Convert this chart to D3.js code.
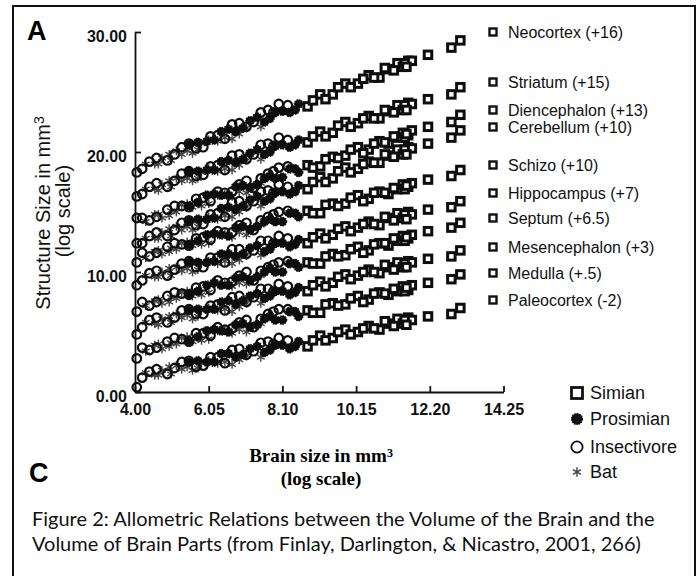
<!DOCTYPE html>
<html>
<meta charset="utf-8">
<head>
<title>brain allometry</title>
<script src="https://d3js.org/d3.v7.min.js"></script>
<style>
body { margin: 0; background: #fff; }
</style>
</head>
<body>
<div id="plot"></div>
<script>

// one entry per animal: brain size (log scale) and its group
var brainSize = [4.05, 4.4, 4.9, 5.3, 5.7, 6.1, 6.5, 6.9, 7.3, 7.7, 8.0, 8.25,
	4.55, 4.75, 5.0, 5.15, 5.45, 5.6, 5.85, 6.3, 6.7, 7.1, 7.5,
	5.5, 6.0, 6.4, 6.8, 7.2, 7.6, 7.9, 8.3, 8.55,
	8.8, 9.15, 9.5, 9.85, 10.2, 10.5, 10.8, 11.05, 11.3, 11.45, 11.6, 11.7, 12.15, 12.8, 13.05,
	4.2, 4.6, 5.1, 5.5, 5.9, 6.3, 6.7, 7.1, 7.5, 7.85,
	4.3, 4.65, 4.95, 5.3, 5.75, 6.05, 6.5, 6.9,
	5.75, 6.2, 6.6, 7.0, 7.4, 7.75, 8.1, 8.45,
	8.95, 9.3, 9.65, 10.0, 10.35, 10.65, 10.95, 11.2, 11.5, 11.55];
var species = ["I","I","I","I","I","I","I","I","I","I","I","I",
	"B","B","B","B","B","B","B","B","B","B","B",
	"P","P","P","P","P","P","P","P","P",
	"S","S","S","S","S","S","S","S","S","S","S","S","S","S","S",
	"I","I","I","I","I","I","I","I","I","I",
	"B","B","B","B","B","B","B","B",
	"P","P","P","P","P","P","P","P",
	"S","S","S","S","S","S","S","S","S","S"];

// structure sizes (log scale, offset as in the legend)
var neocortex = [18.3, 19.2, 19.3, 20.4, 20.3, 21.3, 21.1, 22.4, 22.5, 23.5, 24.0, 23.9,
	19.0, 19.5, 19.3, 20.1, 20.1, 19.9, 20.7, 20.9, 21.1, 22.0, 22.1,
	20.6, 20.9, 21.7, 21.7, 22.6, 22.5, 23.3, 23.3, 24.0,
	23.8, 24.8, 24.8, 25.7, 25.7, 26.4, 26.2, 26.9, 27.4, 27.1, 27.6, 27.6, 28.1, 28.7, 29.3,
	18.6, 19.5, 19.8, 20.7, 20.4, 21.4, 22.3, 22.1, 23.3, 23.3,
	19.0, 19.0, 19.8, 19.8, 20.2, 21.0, 21.2, 21.5,
	20.8, 21.0, 21.9, 22.0, 22.9, 22.8, 23.4, 23.5,
	24.3, 24.4, 25.4, 25.4, 26.1, 26.2, 27.0, 26.8, 27.4, 27.1];
var striatum = [16.3, 17.1, 17.1, 18.2, 18.0, 18.8, 18.5, 19.8, 19.8, 20.7, 21.2, 21.0,
	16.9, 17.3, 17.1, 17.8, 17.8, 17.6, 18.3, 18.4, 18.5, 19.3, 19.4,
	18.3, 18.5, 19.2, 19.1, 19.9, 19.8, 20.5, 20.4, 21.0,
	20.8, 21.7, 21.6, 22.5, 22.4, 23.0, 22.8, 23.4, 23.9, 23.5, 24.1, 24.0, 24.4, 24.8, 25.4,
	16.5, 17.4, 17.6, 18.4, 18.1, 18.9, 19.7, 19.4, 20.6, 20.5,
	16.9, 16.8, 17.6, 17.6, 17.8, 18.6, 18.6, 18.9,
	18.4, 18.5, 19.3, 19.4, 20.2, 20.0, 20.6, 20.6,
	21.3, 21.3, 22.2, 22.1, 22.8, 22.8, 23.5, 23.3, 23.9, 23.5];
var diencephalon = [14.5, 14.3, 15.2, 15.5, 16.1, 15.9, 16.6, 17.3, 17.0, 18.2, 18.7, 18.8,
	14.8, 14.5, 15.1, 15.0, 15.7, 15.4, 15.5, 16.4, 16.3, 16.6, 17.4,
	15.5, 16.4, 16.4, 17.1, 17.0, 17.8, 17.8, 18.6, 18.3,
	18.9, 18.8, 19.6, 19.7, 20.4, 20.2, 20.9, 20.7, 21.2, 21.6, 21.4, 21.8, 22.1, 22.5, 23.1,
	14.5, 14.6, 15.5, 15.4, 16.2, 16.7, 16.7, 17.6, 17.8, 18.4,
	14.2, 14.8, 14.7, 15.6, 15.7, 15.7, 16.5, 16.7,
	15.8, 16.5, 16.4, 17.2, 17.3, 18.0, 17.9, 18.6,
	18.7, 19.4, 19.5, 20.2, 19.9, 20.7, 20.8, 21.3, 21.2, 21.5];
var cerebellum = [12.4, 13.0, 13.0, 14.1, 13.9, 14.8, 14.6, 15.9, 15.9, 16.8, 17.3, 17.1,
	12.8, 13.3, 13.0, 13.8, 13.8, 13.5, 14.3, 14.4, 14.6, 15.4, 15.5,
	14.2, 14.4, 15.3, 15.2, 16.0, 15.9, 16.6, 16.5, 17.2,
	16.9, 17.9, 17.8, 18.7, 18.6, 19.2, 19.1, 19.7, 20.2, 19.8, 20.4, 20.3, 20.7, 21.2, 21.8,
	12.4, 13.3, 13.5, 14.3, 14.0, 14.9, 15.8, 15.5, 16.7, 16.6,
	12.8, 12.8, 13.6, 13.5, 13.8, 14.6, 14.7, 15.0,
	14.4, 14.5, 15.4, 15.5, 16.3, 16.1, 16.7, 16.7,
	17.5, 17.5, 18.4, 18.3, 19.0, 19.1, 19.8, 19.6, 20.2, 19.8];
var schizo = [10.8, 11.3, 12.1, 12.3, 12.8, 12.7, 13.3, 13.9, 13.5, 14.6, 15.0, 15.1,
	11.7, 11.5, 12.0, 11.9, 12.5, 12.2, 12.3, 13.1, 12.9, 13.1, 13.9,
	12.3, 13.1, 13.1, 13.7, 13.5, 14.2, 14.2, 14.9, 14.6,
	15.1, 14.9, 15.7, 15.7, 16.4, 16.1, 16.7, 16.5, 16.9, 17.3, 17.1, 17.4, 17.7, 18.0, 18.5,
	11.6, 11.6, 12.4, 12.2, 12.9, 13.4, 13.3, 14.1, 14.3, 14.8,
	11.2, 11.8, 11.7, 12.4, 12.5, 12.4, 13.2, 13.3,
	12.6, 13.2, 13.0, 13.8, 13.8, 14.4, 14.2, 14.9,
	14.9, 15.6, 15.5, 16.2, 15.9, 16.6, 16.6, 17.0, 16.9, 17.2];
var hippocampus = [8.9, 9.9, 9.7, 10.7, 10.4, 11.2, 10.8, 11.9, 11.8, 12.6, 13.0, 12.8,
	9.6, 10.0, 9.7, 10.4, 10.3, 10.0, 10.7, 10.7, 10.7, 11.4, 11.4,
	10.8, 10.8, 11.5, 11.3, 12.0, 11.7, 12.4, 12.1, 12.7,
	12.4, 13.2, 13.1, 13.8, 13.7, 14.2, 13.9, 14.5, 14.9, 14.5, 15.0, 14.8, 15.2, 15.4, 15.9,
	9.3, 10.1, 10.2, 10.9, 10.4, 11.2, 11.9, 11.5, 12.6, 12.4,
	9.7, 9.6, 10.3, 10.1, 10.2, 10.9, 10.9, 11.0,
	10.8, 10.9, 11.5, 11.5, 12.2, 11.9, 12.4, 12.3,
	12.9, 12.8, 13.6, 13.4, 14.0, 14.0, 14.6, 14.3, 14.8, 14.4];
var septum = [6.7, 7.2, 8.0, 8.2, 8.7, 8.5, 9.1, 9.7, 9.3, 10.4, 10.8, 10.9,
	7.6, 7.4, 7.9, 7.8, 8.4, 8.0, 8.1, 9.0, 8.8, 9.0, 9.7,
	8.2, 8.9, 8.9, 9.5, 9.3, 10.0, 10.0, 10.7, 10.4,
	10.8, 10.7, 11.5, 11.4, 12.1, 11.8, 12.4, 12.2, 12.6, 13.0, 12.8, 13.1, 13.4, 13.7, 14.1,
	7.5, 7.5, 8.3, 8.1, 8.8, 9.3, 9.2, 10.0, 10.1, 10.6,
	7.2, 7.7, 7.5, 8.3, 8.3, 8.3, 9.0, 9.1,
	8.4, 9.1, 8.9, 9.6, 9.6, 10.3, 10.0, 10.7,
	10.7, 11.3, 11.3, 11.9, 11.6, 12.3, 12.4, 12.8, 12.6, 12.9];
var mesencephalon = [4.8, 6.0, 5.8, 6.8, 6.5, 7.2, 6.8, 8.0, 7.9, 8.6, 9.0, 8.8,
	5.7, 6.1, 5.8, 6.5, 6.4, 6.1, 6.8, 6.8, 6.7, 7.4, 7.4,
	6.8, 6.9, 7.5, 7.3, 8.0, 7.8, 8.4, 8.1, 8.7,
	8.4, 9.2, 9.1, 9.8, 9.7, 10.2, 9.9, 10.4, 10.8, 10.4, 10.9, 10.8, 11.1, 11.3, 11.8,
	5.4, 6.2, 6.2, 6.9, 6.5, 7.3, 7.9, 7.5, 8.6, 8.4,
	5.8, 5.6, 6.3, 6.2, 6.3, 7.0, 6.9, 7.1,
	6.9, 6.9, 7.6, 7.6, 8.2, 8.0, 8.4, 8.3,
	8.9, 8.8, 9.6, 9.4, 10.0, 10.0, 10.6, 10.2, 10.7, 10.4];
var medulla = [2.8, 3.5, 4.2, 4.4, 4.9, 4.7, 5.2, 5.8, 5.4, 6.5, 6.9, 6.9,
	3.9, 3.6, 4.1, 4.0, 4.6, 4.2, 4.3, 5.1, 4.9, 5.0, 5.7,
	4.3, 5.1, 5.1, 5.6, 5.4, 6.1, 6.0, 6.7, 6.3,
	6.8, 6.6, 7.4, 7.3, 8.0, 7.7, 8.3, 8.1, 8.4, 8.8, 8.5, 8.9, 9.1, 9.4, 9.8,
	3.7, 3.7, 4.5, 4.2, 4.9, 5.4, 5.3, 6.0, 6.1, 6.7,
	3.4, 4.0, 3.8, 4.5, 4.5, 4.4, 5.1, 5.2,
	4.6, 5.2, 5.0, 5.7, 5.6, 6.3, 6.0, 6.7,
	6.6, 7.3, 7.2, 7.8, 7.5, 8.2, 8.2, 8.6, 8.4, 8.7];
var paleocortex = [0.4, 1.7, 1.5, 2.5, 2.1, 2.9, 2.4, 3.6, 3.4, 4.2, 4.5, 4.3,
	1.4, 1.8, 1.5, 2.2, 2.1, 1.8, 2.4, 2.4, 2.3, 3.0, 2.9,
	2.5, 2.5, 3.2, 2.9, 3.6, 3.3, 3.9, 3.6, 4.2,
	3.8, 4.7, 4.5, 5.2, 5.0, 5.5, 5.2, 5.7, 6.1, 5.7, 6.2, 6.0, 6.3, 6.5, 7.0,
	1.2, 1.9, 2.0, 2.6, 2.2, 2.9, 3.5, 3.1, 4.1, 4.0,
	1.6, 1.4, 2.1, 1.9, 2.0, 2.6, 2.5, 2.7,
	2.6, 2.5, 3.2, 3.1, 3.8, 3.5, 3.9, 3.8,
	4.3, 4.3, 5.0, 4.8, 5.3, 5.3, 5.9, 5.5, 6.0, 5.6];

var structureNames = ["Neocortex (+16)", "Striatum (+15)", "Diencephalon (+13)", "Cerebellum (+10)",
	"Schizo (+10)", "Hippocampus (+7)", "Septum (+6.5)", "Mesencephalon (+3)", "Medulla (+.5)", "Paleocortex (-2)"];
var structureValues = [neocortex, striatum, diencephalon, cerebellum, schizo,
	hippocampus, septum, mesencephalon, medulla, paleocortex];

var speciesCodes = ["S", "P", "I", "B"];
var speciesNames = ["Simian", "Prosimian", "Insectivore", "Bat"];

var xTicks = [4.00, 6.05, 8.10, 10.15, 12.20, 14.25];
var yTicks = [0, 10, 20, 30];

// layout
var width = 700, height = 576;
var sans = "'Liberation Sans', Arial, sans-serif";

var svg = d3.select("#plot").append("svg")
	.attr("width", width)
	.attr("height", height);

svg.append("rect").attr("width", width).attr("height", height).attr("fill", "#fff");

var defs = svg.append("defs");
defs.append("filter").attr("id", "scan")
	.append("feGaussianBlur").attr("stdDeviation", 0.45);

// frame of the scanned figure
svg.append("path")
	.attr("d", "M13," + (height + 4) + "V6H695V" + (height + 4))
	.attr("fill", "none")
	.attr("stroke", "#111")
	.attr("stroke-width", 2);

var xScale = d3.scaleLinear().domain([4, 14.25]).range([135, 503.5]);
var yScale = d3.scaleLinear().domain([0, 30]).range([392, 32]);

var xAxis = d3.axisBottom(xScale).tickValues(xTicks)
	.tickSize(-6).tickSizeOuter(0).tickPadding(12)
	.tickFormat(d3.format(".2f"));
var yAxis = d3.axisLeft(yScale).tickValues(yTicks)
	.tickSize(-6).tickSizeOuter(0).tickPadding(8)
	.tickFormat(d3.format(".2f"));

var gx = svg.append("g")
	.attr("transform", "translate(0," + yScale(0) + ")")
	.call(xAxis);
var gy = svg.append("g")
	.attr("transform", "translate(" + xScale(4) + ",0)")
	.call(yAxis);

[gx, gy].forEach(function(g){
	g.selectAll("path, line").attr("stroke", "#111").attr("stroke-width", 1.8);
	g.selectAll("text").attr("fill", "#111")
		.style("font-family", sans).style("font-size", "16px").style("font-weight", "bold");
});
gy.selectAll("text").attr("dy", "0.6em");

// points, one band per structure
var points = [];
structureValues.forEach(function(vals){
	vals.forEach(function(v, i){
		points.push({ x: brainSize[i], y: v, sp: species[i] });
	});
});

var asterisk = d3.symbol().type(d3.symbolAsterisk);

function drawMarker(sel, sp, big){
	if (sp === "S") {
		var s = big ? 11 : 7.5;
		sel.append("rect")
			.attr("x", -s / 2).attr("y", -s / 2)
			.attr("width", s).attr("height", s)
			.attr("fill", "#fff").attr("stroke", "#111").attr("stroke-width", big ? 2.8 : 3);
	} else if (sp === "P") {
		sel.append("circle").attr("r", big ? 5.5 : 4.3).attr("fill", "#111")
			.attr("stroke", "#111").attr("stroke-width", 1.2).attr("stroke-dasharray", "1.5,1");
	} else if (sp === "I") {
		sel.append("circle").attr("r", big ? 5.6 : 4.3).attr("fill", "none")
			.attr("stroke", "#111").attr("stroke-width", big ? 1.8 : 2.2);
	} else {
		sel.append("path").attr("d", asterisk.size(big ? 60 : 55)())
			.attr("fill", "none").attr("stroke", "#444").attr("stroke-width", 1.4);
	}
}

var plot = svg.append("g").attr("id", "scatter").attr("filter", "url(#scan)");
["B", "I", "P", "S"].forEach(function(sp){
	plot.selectAll(".dot-" + sp)
		.data(points.filter(function(d){ return d.sp === sp; }))
		.enter()
		.append("g")
		.attr("class", "dot-" + sp)
		.attr("transform", function(d){ return "translate(" + xScale(d.x) + "," + yScale(d.y) + ")"; })
		.each(function(){ drawMarker(d3.select(this), sp, false); });
});

// structure legend
var legendY = [32, 82, 110, 127, 165, 193, 218, 247, 273, 300];
var leg = svg.append("g").selectAll("g")
	.data(structureNames)
	.enter()
	.append("g")
	.attr("transform", function(d, i){ return "translate(493," + legendY[i] + ")"; });
leg.append("rect")
	.attr("x", -3.5).attr("y", -3.5).attr("width", 7).attr("height", 7)
	.attr("fill", "#fff").attr("stroke", "#111").attr("stroke-width", 2.4);
leg.append("text")
	.attr("x", 15).attr("dy", "0.36em")
	.style("font-family", sans).style("font-size", "16px").attr("fill", "#111")
	.text(function(d){ return d; });

// species legend
var spY = [393, 419, 447, 472];
var sleg = svg.append("g").selectAll("g")
	.data(speciesCodes)
	.enter()
	.append("g")
	.attr("transform", function(d, i){ return "translate(577," + spY[i] + ")"; });
sleg.each(function(d){ drawMarker(d3.select(this), d, true); });
sleg.append("text")
	.attr("x", 13).attr("dy", "0.36em")
	.style("font-family", sans).style("font-size", "18px").attr("fill", "#111")
	.text(function(d, i){ return speciesNames[i]; });

// panel letters
svg.append("text").attr("x", 27).attr("y", 40).text("A")
	.style("font-family", sans).style("font-size", "27px").style("font-weight", "bold");
svg.append("text").attr("x", 29).attr("y", 482).text("C")
	.style("font-family", sans).style("font-size", "27px").style("font-weight", "bold");

// y title
var yt = svg.append("text")
	.attr("transform", "translate(50,213) rotate(-90)")
	.attr("text-anchor", "middle")
	.style("font-family", sans).style("font-size", "20px").attr("fill", "#111");
yt.append("tspan").text("Structure Size in mm");
yt.append("tspan").attr("dy", "-0.45em").style("font-size", "14px").text("3");
svg.append("text")
	.attr("transform", "translate(70,211) rotate(-90)")
	.attr("text-anchor", "middle")
	.style("font-family", sans).style("font-size", "20px").attr("fill", "#111")
	.text("(log scale)");

// x title
var serif = "'Liberation Serif', 'Times New Roman', serif";
var xt = svg.append("text")
	.attr("x", 321).attr("y", 462)
	.attr("text-anchor", "middle")
	.style("font-family", serif).style("font-size", "19px").style("font-weight", "bold");
xt.append("tspan").text("Brain size in mm");
xt.append("tspan").attr("dy", "-0.45em").style("font-size", "12px").text("3");
svg.append("text")
	.attr("x", 321).attr("y", 485)
	.attr("text-anchor", "middle")
	.style("font-family", serif).style("font-size", "19px").style("font-weight", "bold")
	.text("(log scale)");

// caption
var caption = ["Figure 2: Allometric Relations between the Volume of the Brain and the",
	"Volume of Brain Parts (from Finlay, Darlington, & Nicastro, 2001, 266)"];
var cap = svg.append("g").selectAll("text")
	.data(caption)
	.enter()
	.append("text")
	.attr("x", 32)
	.attr("y", function(d, i){ return 526 + i * 25; })
	.style("font-family", "Lato, 'Open Sans', sans-serif").style("font-size", "17px").attr("fill", "#111")
	.text(function(d){ return d; });
var w = cap.node().getComputedTextLength();
cap.style("font-size", (17 * 623 / w) + "px");

</script>
</body>
</html>
